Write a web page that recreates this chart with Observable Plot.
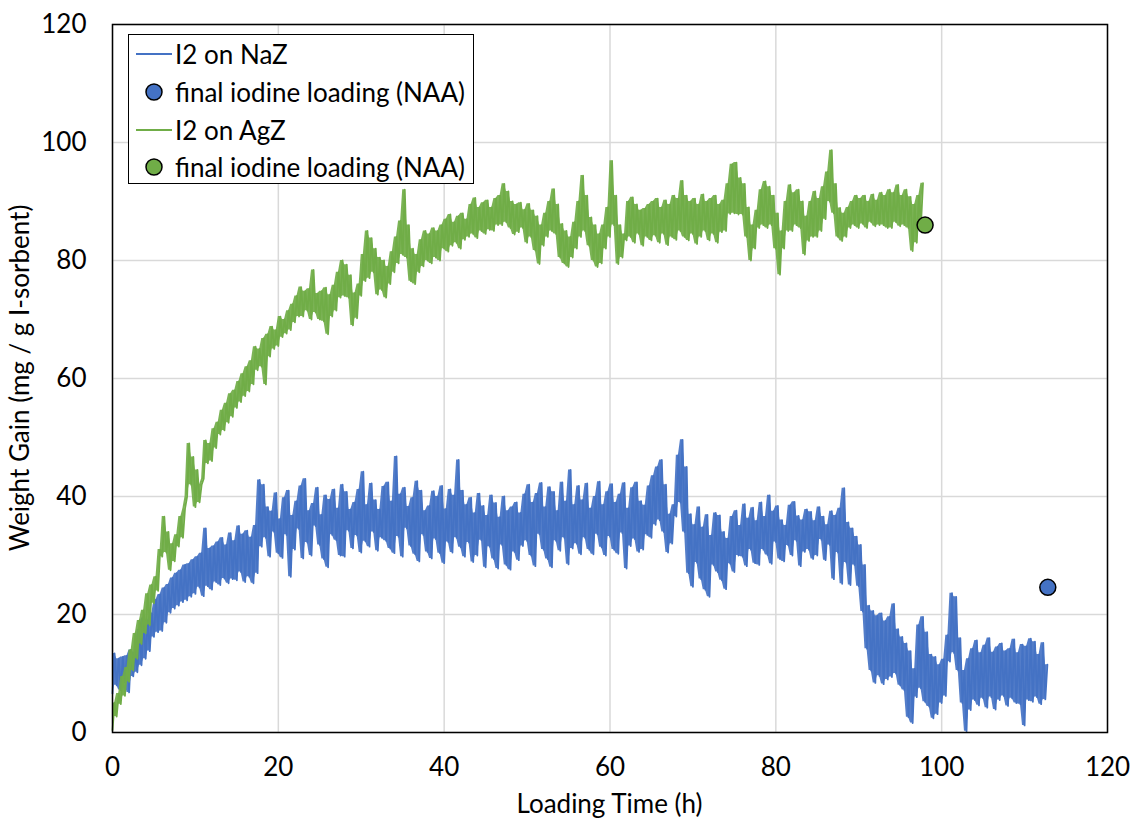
<!DOCTYPE html>
<html>
<head>
<meta charset="utf-8">
<script src="https://cdn.jsdelivr.net/npm/d3@7"></script>
<script src="https://cdn.jsdelivr.net/npm/@observablehq/plot@0.6"></script>
<style>
  html, body { margin: 0; padding: 0; background: #fff; }
  #wrap { position: relative; width: 1130px; height: 823px; font-family: Lato, "Open Sans", sans-serif; }
  #legend { position: absolute; left: 128px; top: 34px; width: 346px; height: 150px; border: 1.5px solid #000; background: #fff; box-sizing: border-box; }
  .row { position: absolute; left: 0; height: 36px; display: flex; align-items: center; font-size: 26px; color: #000; white-space: nowrap; }
  .sw { width: 46px; height: 20px; }
</style>
</head>
<body>
<div id="wrap"></div>
<script>
// ---- data ----
const sampleStep = 0.25; // hours between samples
const seriesNames = ["I2 on NaZ", "I2 on AgZ"];
const seriesColors = ["#4472C4", "#70AD47"];
const legendLabels = ["I2 on NaZ", "final iodine loading (NAA)", "I2 on AgZ", "final iodine loading (NAA)"];
const xTicks = [0, 20, 40, 60, 80, 100, 120];
const yTicks = [0, 20, 40, 60, 80, 100, 120];
const xTitle = "Loading Time (h)";
const yTitle = "Weight Gain (mg / g I-sorbent)";

const nazValues = [
  6.6,13.4,8.0,12.5, 7.2,12.8,8.5,13.0, 6.8,14.0,9.5,13.6, 10.2,17.5,11.4,19.4,
  12.5,19.0,13.8,20.2, 16.2,22.5,17.0,23.4, 17.2,24.5,18.6,25.1, 20.3,26.2,21.0,27.0,
  21.5,27.5,22.1,28.4, 22.4,28.6,23.0,29.3, 23.5,29.8,24.6,30.4, 23.1,34.6,24.8,31.2,
  24.2,31.6,25.5,32.3, 25.0,33.0,26.1,31.8, 25.3,33.8,26.0,32.5, 25.8,35.0,27.2,33.6,
  25.5,34.2,26.4,33.1, 25.3,35.1,27.0,42.8,
  31.5,42.0,33.0,38.2, 29.8,37.5,34.0,40.6, 30.4,36.2,29.6,39.8, 33.5,41.0,26.4,36.8,
  31.0,39.2,34.5,41.8, 29.5,43.0,32.2,37.6, 30.0,38.8,35.0,41.5, 31.8,36.9,29.4,40.2,
  28.0,39.5,33.5,41.2, 32.6,38.0,30.0,42.0, 29.8,40.8,34.2,37.8, 31.2,39.0,33.4,41.2,
  30.5,44.2,32.4,38.6, 31.5,42.2,34.0,39.4, 30.8,37.8,33.0,41.7, 32.5,42.4,31.2,39.2,
  30.4,46.8,33.2,40.4, 29.8,41.5,34.6,38.3, 31.6,39.8,30.2,42.6, 29.0,41.0,33.5,37.6,
  30.6,38.4,29.5,40.9, 32.8,40.0,30.4,41.8, 28.7,37.9,32.3,41.2, 30.5,40.2,33.0,46.2,
  31.4,41.0,29.8,38.6, 32.2,39.8,28.9,37.2, 30.0,40.5,32.6,38.4, 28.0,36.8,31.5,40.2,
  29.4,38.9,27.8,36.5, 31.8,40.0,28.4,37.6, 27.6,38.2,30.6,39.0, 29.2,37.2,31.6,40.4,
  32.5,42.0,30.0,39.0, 28.2,40.5,33.6,42.3, 31.0,38.2,29.4,41.6, 28.0,40.8,32.5,37.6,
  30.8,42.4,33.0,39.2, 28.5,44.5,31.2,38.6, 32.0,41.8,30.2,39.4, 33.0,42.2,31.0,38.0,
  30.2,40.0,33.6,42.5, 31.4,38.6,30.0,40.8, 33.2,42.1,31.0,39.0, 30.3,40.4,33.8,42.3,
  27.8,38.0,31.6,41.5, 32.8,42.4,30.6,39.2, 31.0,38.5,33.5,41.8, 33.0,43.5,35.2,45.0,
  36.0,46.2,34.0,42.0, 30.5,37.0,32.0,38.6, 36.6,47.0,39.0,49.6, 34.0,45.0,27.0,37.0,
  24.7,35.2,28.8,38.2, 26.0,34.8,24.2,36.9, 23.0,33.4,28.4,37.2, 27.2,36.8,25.8,34.0,
  24.3,32.9,28.6,36.6, 27.2,37.6,30.0,35.1, 29.8,38.7,28.2,36.3, 31.0,38.1,28.7,35.9,
  28.4,39.0,31.0,36.6, 30.1,40.2,28.6,37.5, 32.3,38.4,29.4,36.0, 29.0,35.1,31.7,38.5,
  30.0,39.1,32.5,36.7, 28.2,36.0,30.6,37.8, 31.0,37.4,29.4,35.9, 30.0,38.2,32.7,36.6,
  29.2,35.2,31.8,37.5, 26.0,36.8,30.5,38.0, 25.2,41.4,28.8,35.6, 25.0,34.6,28.4,33.2,
  24.8,31.8,20.5,28.4, 14.2,21.5,10.5,20.6,
  8.4,19.8,9.6,20.2, 8.2,18.9,9.0,19.6, 9.4,21.8,10.0,17.5, 8.0,16.2,7.2,15.1,
  2.6,13.8,1.6,10.8, 6.0,18.2,7.5,19.6, 5.2,17.0,4.4,13.2, 2.4,12.8,3.1,11.5,
  5.0,12.4,6.2,16.5, 12.0,23.6,13.5,23.0, 10.5,16.0,5.0,10.5, 0.2,12.5,3.8,14.2,
  5.5,15.6,4.6,13.5, 5.8,14.8,4.2,16.0, 6.0,13.6,3.9,14.5, 5.5,15.1,6.2,13.8,
  4.5,14.2,5.8,15.8, 5.0,13.5,4.8,14.9, 1.2,14.6,5.5,15.9, 5.2,15.4,6.0,13.2,
  4.8,15.2,5.6,11.5
];

const agzValues = [
  0.4,5.0,2.7,6.6, 4.8,9.5,6.2,11.0, 8.6,14.0,10.5,16.8, 12.5,19.0,15.0,20.7,
  16.8,23.5,18.2,25.0, 21.9,26.4,24.0,31.0, 29.8,36.6,30.5,34.0, 27.5,32.0,29.0,33.5,
  31.5,36.6,33.0,38.0, 40.0,49.0,42.0,46.7, 38.2,44.5,39.0,42.0, 43.0,49.5,45.6,49.0,
  46.0,51.5,48.2,52.6, 50.5,54.6,51.2,55.8, 52.5,57.4,53.5,58.0, 55.0,59.5,56.0,60.8,
  57.0,62.0,57.8,63.0, 59.0,65.4,61.4,65.0, 62.0,66.8,59.0,67.5, 63.7,68.8,65.0,68.2,
  65.5,70.5,67.0,70.0, 67.6,71.5,68.2,72.6, 69.5,74.0,70.5,75.5, 70.5,74.8,71.5,75.2,
  70.0,78.4,71.2,74.4, 70.0,74.8,69.7,75.4, 67.5,74.2,70.5,75.8, 71.5,78.0,73.7,80.0,
  74.0,79.3,73.7,77.5, 69.0,74.5,70.2,76.0, 74.0,81.0,76.5,85.0, 77.0,83.8,78.0,82.0,
  74.2,80.5,75.0,80.0, 73.7,79.0,76.0,81.5, 78.0,84.0,79.5,86.7, 81.0,92.0,80.5,86.0,
  76.5,82.0,76.0,81.0, 78.0,83.5,79.0,85.0, 80.0,84.5,79.5,85.5, 80.5,85.0,80.0,86.0,
  82.0,87.0,81.5,87.8, 82.5,86.5,83.0,87.5, 82.0,88.0,83.5,87.0, 84.0,89.5,84.5,90.6,
  83.8,89.0,85.0,89.8, 84.5,90.2,85.2,89.0, 85.0,90.5,86.0,91.0, 86.0,93.0,86.5,91.7,
  85.5,90.0,84.4,89.5, 84.8,89.8,85.5,88.6, 83.0,89.6,84.0,88.5, 81.7,87.5,79.4,86.0,
  82.5,88.0,84.0,90.0, 85.0,92.1,84.5,89.5, 80.5,86.2,79.5,85.0, 78.9,84.0,80.5,86.5,
  82.0,90.0,84.0,94.4, 85.0,91.0,82.5,87.3, 80.0,86.0,78.9,84.5, 79.5,86.0,82.0,89.0,
  84.0,96.9,86.0,91.0, 79.4,86.0,80.5,84.5, 83.4,90.0,84.0,90.7, 83.0,89.5,84.5,88.5,
  82.5,88.8,84.0,89.5, 83.4,90.0,84.2,90.5, 83.0,89.0,84.5,90.2, 82.6,89.5,84.0,91.0,
  83.5,90.5,85.0,93.5, 84.0,91.0,83.4,90.0, 84.5,90.5,82.8,89.5, 84.0,91.2,85.0,90.0,
  83.4,90.5,84.5,91.0, 83.0,89.5,84.8,90.2, 85.0,93.0,87.9,96.3, 88.0,96.6,87.8,94.0,
  87.8,93.0,84.0,89.0, 80.0,86.0,82.0,88.5, 85.5,92.0,86.0,93.4, 85.5,92.5,86.0,91.0,
  82.0,88.0,77.6,85.0, 82.0,90.0,85.0,92.8, 85.0,91.5,86.0,92.0, 85.5,90.0,81.0,87.5,
  83.3,90.0,84.0,91.7, 84.0,90.5,85.0,92.5, 87.0,95.0,90.0,98.7, 88.0,93.0,84.0,88.9,
  83.3,88.0,84.0,89.0, 85.5,90.0,86.0,91.0, 85.5,90.5,86.2,91.0, 85.5,90.0,86.5,91.2,
  85.8,90.2,86.0,91.5, 86.0,91.0,85.5,92.0, 85.5,91.5,86.5,92.8, 85.8,91.0,86.0,92.0,
  85.5,90.8,81.6,89.5, 83.0,91.0,86.0,93.1
];

// final iodine loading (NAA)
const finalTimes = [112.8, 98.0];
const finalLoads = [24.6, 86.0];

// ---- build tables ----
const naz = nazValues.map((v, i) => ({t: i * sampleStep, v}));
const agz = agzValues.map((v, i) => ({t: i * sampleStep, v}));
const finals = finalTimes.map((t, i) => ({t, v: finalLoads[i], c: seriesColors[i]}));

// band between consecutive samples, so the dense noise reads as a solid trace
const band = (data, color) => Plot.areaY(data, Plot.map(
  {y1: Plot.window({k: 2, anchor: "start", reduce: "min"}), y2: Plot.window({k: 2, anchor: "start", reduce: "max"})},
  {x: "t", y1: "v", y2: "v", fill: color, fillOpacity: 0.92}
));

const W = 1130, H = 823;
const chart = Plot.plot({
  width: W,
  height: H,
  marginLeft: 112,
  marginRight: 23,
  marginTop: 24,
  marginBottom: 91,
  style: {fontFamily: "Lato, 'Open Sans', sans-serif", fontSize: "26px", color: "#000", background: "#fff"},
  x: {domain: [0, 120], ticks: xTicks, tickSize: 0, tickPadding: 25, label: null, grid: false},
  y: {domain: [0, 120], ticks: yTicks, tickSize: 0, tickPadding: 26, label: null, grid: false},
  marks: [
    Plot.gridX(xTicks, {stroke: "#d9d9d9", strokeOpacity: 1, strokeWidth: 1.5}),
    Plot.gridY(yTicks, {stroke: "#d9d9d9", strokeOpacity: 1, strokeWidth: 1.5}),
    band(naz, seriesColors[0]),
    Plot.line(naz, {x: "t", y: "v", stroke: seriesColors[0], strokeWidth: 1.8}),
    band(agz, seriesColors[1]),
    Plot.line(agz, {x: "t", y: "v", stroke: seriesColors[1], strokeWidth: 1.8}),
    Plot.dot(finals, {x: "t", y: "v", r: 8, fill: "c", stroke: "#000", strokeWidth: 1.5}),
    Plot.frame({stroke: "#000", strokeWidth: 1.5})
  ]
});

const svg = d3.select(chart);
svg.append("text")
  .attr("x", (112 + (W - 23)) / 2).attr("y", 806)
  .attr("text-anchor", "middle").attr("dominant-baseline", "middle")
  .attr("font-size", 26).attr("fill", "#000")
  .text(xTitle);
svg.append("text")
  .attr("transform", `translate(22, ${(24 + (H - 91)) / 2}) rotate(-90)`)
  .attr("text-anchor", "middle").attr("dominant-baseline", "middle")
  .attr("font-size", 26).attr("fill", "#000")
  .text(yTitle);

const wrap = document.getElementById("wrap");
wrap.appendChild(chart);

// legend overlay
const legend = document.createElement("div");
legend.id = "legend";
const rowTops = [1, 39, 77, 114];
legendLabels.forEach((lab, i) => {
  const row = document.createElement("div");
  row.className = "row";
  row.style.top = rowTops[i] + "px";
  const color = seriesColors[Math.floor(i / 2)];
  const sw = i % 2 === 0
    ? `<svg class="sw" viewBox="0 0 46 20"><line x1="7" y1="10" x2="43" y2="10" stroke="${color}" stroke-width="2"/></svg>`
    : `<svg class="sw" viewBox="0 0 46 20"><circle cx="25" cy="10" r="8" fill="${color}" stroke="#000" stroke-width="1.5"/></svg>`;
  row.innerHTML = sw + `<span>${lab}</span>`;
  legend.appendChild(row);
});
wrap.appendChild(legend);
</script>
</body>
</html>
